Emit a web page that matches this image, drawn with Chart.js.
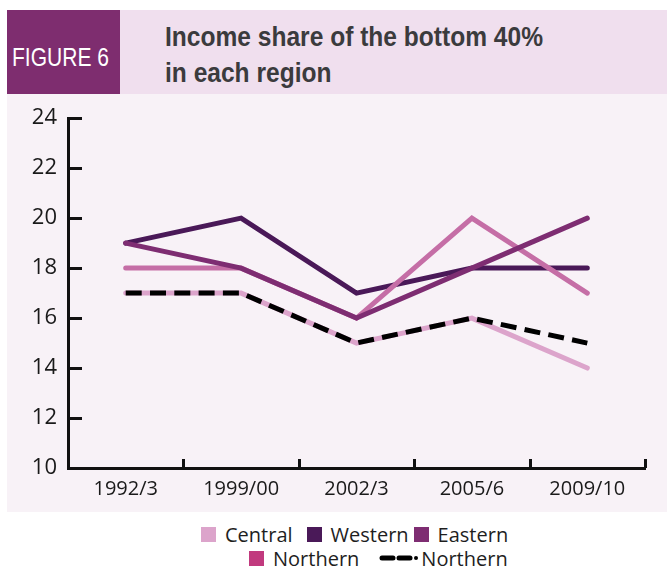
<!DOCTYPE html>
<html>
<head>
<meta charset="utf-8">
<script src="https://cdn.jsdelivr.net/npm/chart.js@4.4.1/dist/chart.umd.min.js"></script>
<style>
  html, body { margin: 0; padding: 0; background: #ffffff; }
  body { width: 667px; height: 566px; position: relative; overflow: hidden; }
  #panel { position: absolute; left: 7px; top: 10px; width: 660px; height: 502px; background: #f8f2f7; }
  #figbox { position: absolute; left: 7px; top: 10px; width: 113px; height: 84px; background: #7e2d6f; }
  #figtext { position: absolute; left: 12px; top: 41px; color: #fff; font-family: "Liberation Sans", sans-serif;
    font-size: 26px; line-height: 32px; white-space: nowrap; transform-origin: 0 0; }
  #band { position: absolute; left: 120px; top: 10px; width: 547px; height: 84px; background: #f0dfee; }
  #title { position: absolute; left: 165px; top: 19px; font-family: "Liberation Sans", sans-serif;
    font-weight: bold; font-size: 27px; line-height: 36px; color: #3b3b3d; white-space: nowrap; transform-origin: 0 0; }
  #wrap { position: absolute; left: 0; top: 94px; width: 667px; height: 418px; }
  #legend { position: absolute; left: 0; top: 522px; width: 667px; font-family: "Open Sans", sans-serif;
    font-size: 20px; color: #1e1e1e; }
  .row { position: absolute; display: flex; align-items: center; white-space: nowrap; height: 24px; }
  .item { display: flex; align-items: center; }
  .box { width: 15px; height: 15px; margin-right: 9px; }
</style>
</head>
<body>
<div id="panel"></div>
<div id="figbox"></div>
<div id="figtext">FIGURE 6</div>
<div id="band"></div>
<div id="title">Income share of the bottom 40%<br>in each region</div>
<div id="wrap"><canvas id="c" width="667" height="418"></canvas></div>
<div id="legend"></div>
<script>
const categories = ["1992/3", "1999/00", "2002/3", "2005/6", "2009/10"];
const yTicks = [10, 12, 14, 16, 18, 20, 22, 24];
const seriesNames = ["Central", "Western", "Eastern", "Northern", "Northern"];
const central  = [17, 17, 15, 16, 14];
const western  = [19, 20, 17, 18, 18];
const eastern  = [19, 18, 16, 18, 20];
const northern = [18, 18, 16, 20, 17];
const northernDashed = [17, 17, 15, 16, 15];

const lineColors   = ["#dca4cb", "#4a1958", "#7e2d72", "#c56ea6", "#000000"];
const legendColors = ["#dca4cb", "#4a1958", "#7e2d72", "#c13a7e", "#000000"];
const drawOrder    = [5, 4, 2, 3, 1];
const values = [central, western, eastern, northern, northernDashed];

// fit header texts to the reference widths (condensed look)
function fitWidth(id, w) {
  const el = document.getElementById(id);
  const r = el.getBoundingClientRect().width;
  el.style.transform = 'scaleX(' + (w / r) + ')';
}
fitWidth('title', 378);
fitWidth('figtext', 97);

const datasets = values.map((v, i) => ({
  label: seriesNames[i],
  data: v,
  borderColor: lineColors[i],
  backgroundColor: legendColors[i],
  borderWidth: 5,
  borderCapStyle: i === 4 ? 'butt' : 'round',
  borderJoinStyle: 'miter',
  borderDash: i === 4 ? [16, 8.3] : [],
  pointRadius: 0,
  tension: 0,
  order: drawOrder[i]
}));

const tickMarks = {
  id: 'tickMarks',
  afterDraw(chart) {
    const ctx = chart.ctx, x = chart.scales.x, y = chart.scales.y;
    ctx.save();
    ctx.strokeStyle = '#111';
    ctx.lineWidth = 3;
    ctx.beginPath();
    yTicks.forEach(v => {
      const py = Math.round(y.getPixelForValue(v)) + 0.5;
      ctx.moveTo(x.left, py); ctx.lineTo(x.left + 14, py);
    });
    for (let i = 0; i < categories.length; i++) {
      const px = Math.round(x.getPixelForValue(i + 0.5)) + 0.5;
      ctx.moveTo(px, y.bottom); ctx.lineTo(px, y.bottom - 9);
    }
    ctx.stroke();
    ctx.restore();
  }
};

new Chart(document.getElementById('c'), {
  type: 'line',
  data: { labels: categories, datasets },
  options: {
    responsive: false,
    animation: false,
    layout: { padding: { top: 18, right: 22, left: 0, bottom: 0 } },
    plugins: { legend: { display: false }, tooltip: { enabled: false } },
    scales: {
      x: {
        offset: true,
        grid: { display: false, drawTicks: false },
        border: { display: true, color: '#111', width: 3 },
        ticks: { color: '#1a1a1a', font: { family: 'Open Sans', size: 20 }, padding: 9, maxRotation: 0 },
        afterFit(s) { s.height = 44; }
      },
      y: {
        min: 10, max: 24,
        afterBuildTicks(s) { s.ticks = yTicks.map(v => ({ value: v })); },
        grid: { display: false, drawTicks: false },
        border: { display: true, color: '#111', width: 3 },
        ticks: { color: '#1a1a1a', font: { family: 'Open Sans', size: 22 }, padding: 11 },
        afterFit(s) { s.width = 68; }
      }
    }
  },
  plugins: [tickMarks]
});

// HTML legend built from the dataset names/colours
const legend = document.getElementById('legend');
const rows = [[0, 1, 2], [3, 4]];
const rowLefts = [201, 249];
const gaps = [[14, 5, 0], [20, 0]];
rows.forEach((r, ri) => {
  const row = document.createElement('div');
  row.className = 'row';
  row.style.left = rowLefts[ri] + 'px';
  row.style.top = (ri * 24) + 'px';
  r.forEach((i, k) => {
    const it = document.createElement('div');
    it.className = 'item';
    it.style.marginRight = gaps[ri][k] + 'px';
    if (i === 4) {
      it.innerHTML = '<svg width="40" height="10" style="margin-right:2px"><line x1="3" y1="5" x2="14" y2="5" stroke="#000" stroke-width="5" stroke-linecap="round"/><line x1="20" y1="5" x2="31" y2="5" stroke="#000" stroke-width="5" stroke-linecap="round"/><circle cx="37" cy="5" r="2" fill="#000"/></svg>';
    } else {
      it.innerHTML = '<div class="box" style="background:' + legendColors[i] + '"></div>';
    }
    const t = document.createElement('span');
    t.textContent = seriesNames[i];
    it.appendChild(t);
    row.appendChild(it);
  });
  legend.appendChild(row);
});
</script>
</body>
</html>
